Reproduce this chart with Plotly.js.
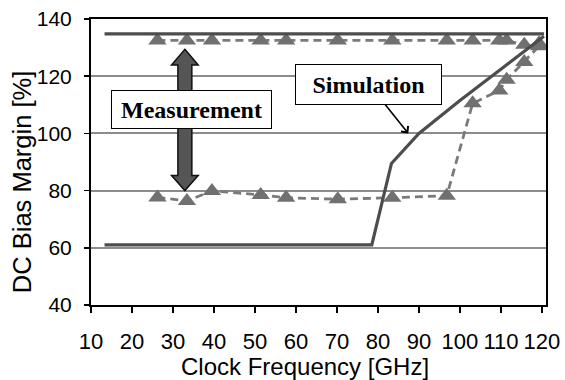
<!DOCTYPE html>
<html>
<head>
<meta charset="utf-8">
<script src="https://cdn.plot.ly/plotly-3.0.1.min.js"></script>
<style>html,body{margin:0;padding:0;background:#fff;}#chart{width:565px;height:380px;}</style>
</head>
<body>
<div id="chart"></div>
<script>
// ---- data ----
const measFreq = [26.2, 33.4, 39.5, 51.4, 57.6, 70.2, 83.5, 96.8, 103.1, 109.6, 111.4, 115.7, 119.3];
const measUpper = [132.5, 132.5, 132.5, 132.5, 132.5, 132.5, 132.5, 132.5, 132.5, 132.5, 132.5, 131, 131.5];
const measLower = [77.6, 76.4, 79.9, 78.5, 77.5, 77.0, 77.5, 78.2, 110.5, 115.0, 118.8, 125.0, 130.5];
const simUpperFreq = [13.3, 120.5];
const simUpper = [134.8, 134.8];
const simLowerFreq = [13.3, 78.5, 83.3, 90, 100, 110, 120.5];
const simLower = [61, 61, 89.5, 100, 111.5, 122.5, 134];
const xTicks = [10, 20, 30, 40, 50, 60, 70, 80, 90, 100, 110, 120];
const yTicks = [40, 60, 80, 100, 120, 140];
const labels = {x: 'Clock Frequency [GHz]', y: 'DC Bias Margin [%]', meas: 'Measurement', sim: 'Simulation'};

// ---- styles ----
const measStyle = {color: '#7a7a7a', width: 2.8, dash: '8px,5px'};
const markerStyle = {symbol: 'triangle-up', size: 16, color: '#707070'};
const simStyle = {color: '#4d4d4d', width: 3.2};

const traces = [
  {x: measFreq, y: measUpper, mode: 'lines+markers', line: measStyle, marker: markerStyle, hoverinfo: 'skip'},
  {x: measFreq, y: measLower, mode: 'lines+markers', line: measStyle, marker: markerStyle, hoverinfo: 'skip'},
  {x: simUpperFreq, y: simUpper, mode: 'lines', line: simStyle, hoverinfo: 'skip'},
  {x: simLowerFreq, y: simLower, mode: 'lines', line: simStyle, hoverinfo: 'skip'}
];

// double-headed arrow (decoration)
const ac = {cx: 32.9, top: 129.4, topBase: 123.9, bot: 80.0, botBase: 85.3, hw: 3.25, sw: 1.7};
const arrowPath = 'M' + ac.cx + ',' + ac.top +
  ' L' + (ac.cx + ac.hw) + ',' + ac.topBase +
  ' L' + (ac.cx + ac.sw) + ',' + ac.topBase +
  ' L' + (ac.cx + ac.sw) + ',' + ac.botBase +
  ' L' + (ac.cx + ac.hw) + ',' + ac.botBase +
  ' L' + ac.cx + ',' + ac.bot +
  ' L' + (ac.cx - ac.hw) + ',' + ac.botBase +
  ' L' + (ac.cx - ac.sw) + ',' + ac.botBase +
  ' L' + (ac.cx - ac.sw) + ',' + ac.topBase +
  ' L' + (ac.cx - ac.hw) + ',' + ac.topBase + ' Z';

const tickFont = {family: 'Liberation Sans, Arial, sans-serif', size: 22, color: '#000'};
const boxFont = {family: 'Liberation Serif, Times New Roman, serif', size: 24, color: '#000'};

const layout = {
  width: 565, height: 380,
  margin: {l: 91, r: 19, t: 19, b: 75},
  paper_bgcolor: '#fff', plot_bgcolor: '#fff',
  showlegend: false,
  xaxis: {
    range: [10, 121], tickvals: xTicks, ticktext: xTicks.map(String), tickangle: 0,
    showgrid: false, zeroline: false,
    showline: true, mirror: true, linecolor: '#000', linewidth: 2,
    ticks: 'outside', ticklen: 6, tickwidth: 1.5, tickcolor: '#000',
    tickfont: tickFont, ticklabelstandoff: 10
  },
  yaxis: {
    range: [40, 140], tickvals: yTicks, ticktext: yTicks.map(String),
    showgrid: true, gridcolor: '#8c8c8c', gridwidth: 2, zeroline: false,
    showline: true, mirror: true, linecolor: '#000', linewidth: 2,
    ticks: 'outside', ticklen: 5, tickwidth: 1.5, tickcolor: '#000',
    tickfont: {family: tickFont.family, size: 21, color: '#000'}, ticklabelstandoff: 8
  },
  shapes: [
    {type: 'path', xref: 'x', yref: 'y', path: arrowPath, fillcolor: '#555555', line: {color: '#111', width: 1.5}, layer: 'above'}
  ],
  annotations: [
    {xref: 'paper', yref: 'paper', x: 0.470, y: -0.215, xanchor: 'center', yanchor: 'middle', showarrow: false,
     text: labels.x, font: {family: tickFont.family, size: 24, color: '#000'}},
    {xref: 'paper', yref: 'paper', x: -0.1516, y: 0.4295, xanchor: 'center', yanchor: 'middle', showarrow: false, textangle: -90,
     text: labels.y, font: {family: tickFont.family, size: 25.5, color: '#000'}},
    {xref: 'x', yref: 'y', x: 34.4, y: 108.5, xanchor: 'center', yanchor: 'middle', showarrow: false,
     text: '<b>' + labels.meas + '</b>', font: boxFont, width: 159, height: 37, borderpad: 0,
     bgcolor: '#fff', bordercolor: '#000', borderwidth: 1},
    {xref: 'x', yref: 'y', x: 87.4, y: 100, ax: -39.3, ay: -49.2, showarrow: true,
     arrowhead: 4, arrowsize: 1.1, arrowwidth: 1.6, arrowcolor: '#000', standoff: 0,
     text: '<b>' + labels.sim + '</b>', font: boxFont, width: 145, height: 39, borderpad: 0,
     bgcolor: '#fff', bordercolor: '#000', borderwidth: 1}
  ]
};

Plotly.newPlot('chart', traces, layout, {staticPlot: true, displayModeBar: false});
</script>
</body>
</html>
